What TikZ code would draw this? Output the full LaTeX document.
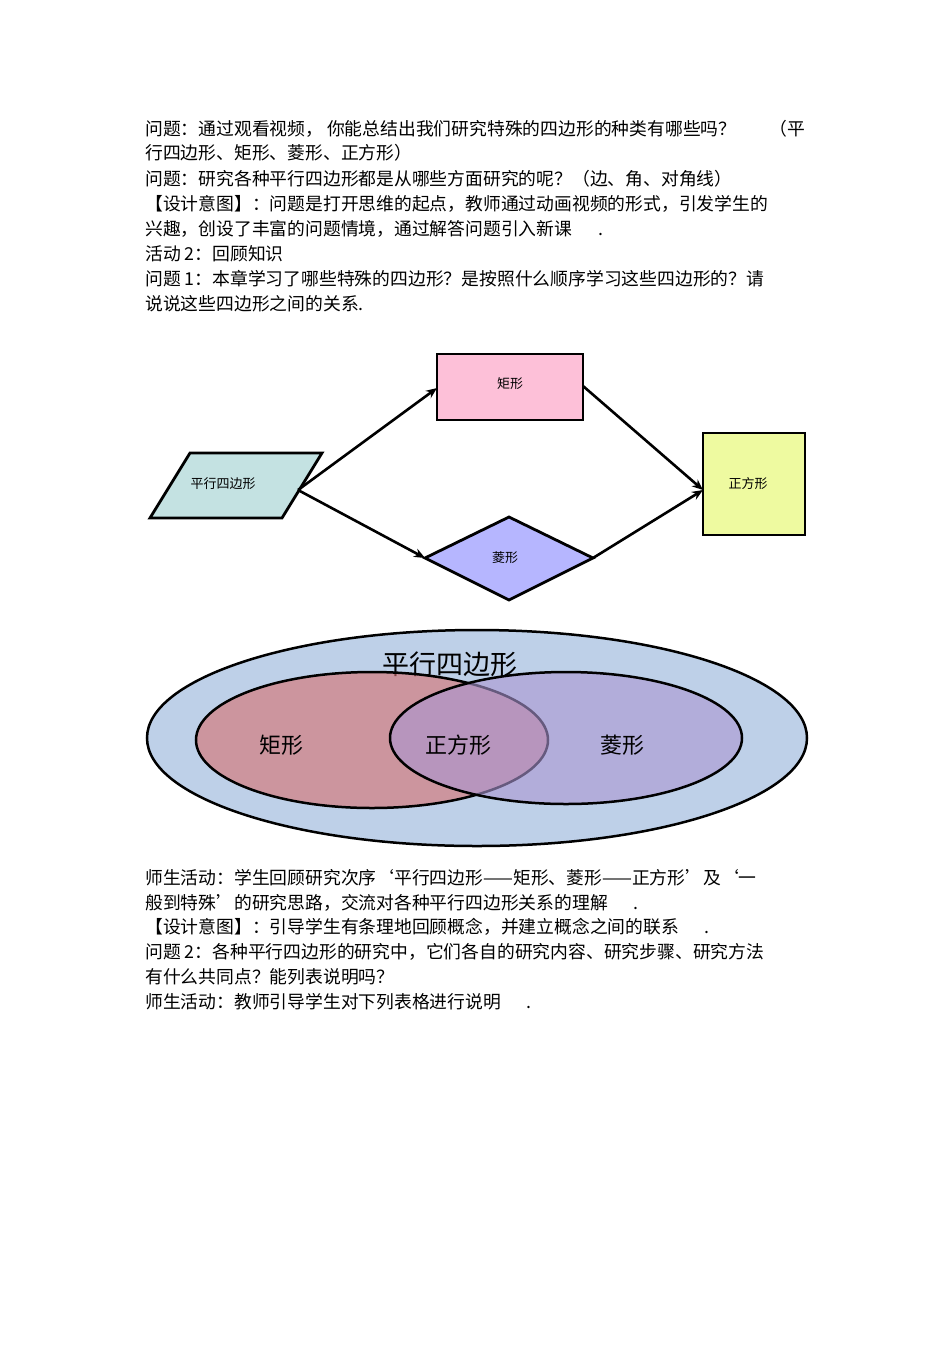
\documentclass[tikz,border=0pt]{standalone}
\usepackage{fontspec}
\setmainfont{Noto Sans CJK SC}
\usetikzlibrary{arrows.meta}
\begin{document}
\begin{tikzpicture}[x=1pt,y=-1pt,
  txt/.style={anchor=west,inner sep=0pt,font=\fontsize{17.8}{20}\selectfont},
  lbl/.style={font=\fontsize{13}{15}\selectfont},
  vl/.style={font=\fontsize{22}{24}\selectfont},
  arr/.style={line width=2.6pt,-{Stealth[length=11pt,width=9pt]}},
  shp/.style={draw=black,line width=2.8pt}]
\useasboundingbox (0,0) rectangle (950,1345);
\fill[white] (0,0) rectangle (950,1345);
% top text
\node[txt] (t1) at (145,129) {问题：通过观看视频，\ 你能总结出我们研究特殊的四边形的种类有哪些吗？};
\node[txt,anchor=east] (t1b) at (805,129) {（平};
\node[txt] (t2) at (145,153) {行四边形、矩形、菱形、正方形）};
\node[txt] (t3) at (145,179) {问题：研究各种平行四边形都是从哪些方面研究的呢？（边、角、对角线）};
\node[txt] (t4) at (145,204) {【设计意图】：问题是打开思维的起点，教师通过动画视频的形式，引发学生的};
\node[txt] (t5) at (145,229) {兴趣，创设了丰富的问题情境，通过解答问题引入新课\quad\ \ .};
\node[txt] (t6) at (145,254) {活动 2：回顾知识};
\node[txt] (t7) at (145,279) {问题 1：本章学习了哪些特殊的四边形？是按照什么顺序学习这些四边形的？请};
\node[txt] (t8) at (145,304) {说说这些四边形之间的关系.};
% flow diagram
\draw[shp,fill={rgb,255:red,253;green,192;blue,216}] (437,354) rectangle (583,420);
\node[lbl] (rect) at (510,384) {矩形};
\draw[shp,fill={rgb,255:red,196;green,226;blue,226}] (150,518) -- (190,453) -- (322,453) -- (282,518) -- cycle;
\node[lbl] (para) at (223,484) {平行四边形};
\draw[shp,fill={rgb,255:red,238;green,250;blue,160}] (703,433) rectangle (805,535);
\node[lbl] (sq) at (748,484) {正方形};
\draw[shp,fill={rgb,255:red,182;green,182;blue,255}] (425,558) -- (509,517) -- (593,558) -- (509,600) -- cycle;
\node[lbl] (rh) at (505,558) {菱形};
\coordinate (pr) at (298,490);
\coordinate (rl) at (437,388);
\coordinate (rr) at (583,386);
\coordinate (dl) at (425,558);
\coordinate (dr) at (593,558);
\coordinate (sl) at (703,490);
\draw[arr] (pr) -- (rl);
\draw[arr] (pr) -- (dl);
\draw[arr] (rr) -- (sl);
\draw[arr] (dr) -- (sl);
% venn
\draw[line width=2.5pt,fill={rgb,255:red,190;green,208;blue,232}] (477,738) ellipse [x radius=330,y radius=108];
\node[vl,font=\fontsize{27}{29}\selectfont] (vp) at (450,664) {平行四边形};
\draw[line width=2.5pt,fill={rgb,255:red,214;green,110;blue,110},fill opacity=0.6] (372,740) ellipse [x radius=176,y radius=68];
\draw[line width=2.5pt,fill={rgb,255:red,170;green,150;blue,210},fill opacity=0.6] (566,738) ellipse [x radius=176,y radius=66];
\node[vl] (vr) at (281,745) {矩形};
\node[vl] (vs) at (458,745) {正方形};
\node[vl] (vh) at (622,745) {菱形};
% bottom text
\node[txt] (b1) at (145,878) {师生活动：学生回顾研究次序‘平行四边形——矩形、菱形——正方形’及‘一};
\node[txt] (b2) at (145,903) {般到特殊’的研究思路，交流对各种平行四边形关系的理解\quad\ \ .};
\node[txt] (b3) at (145,927) {【设计意图】：引导学生有条理地回顾概念，并建立概念之间的联系\quad\ \ .};
\node[txt] (b4) at (145,952) {问题 2：各种平行四边形的研究中，它们各自的研究内容、研究步骤、研究方法};
\node[txt] (b5) at (145,977) {有什么共同点？能列表说明吗？};
\node[txt] (b6) at (145,1002) {师生活动：教师引导学生对下列表格进行说明\quad\ \ .};
\end{tikzpicture}
\end{document}
